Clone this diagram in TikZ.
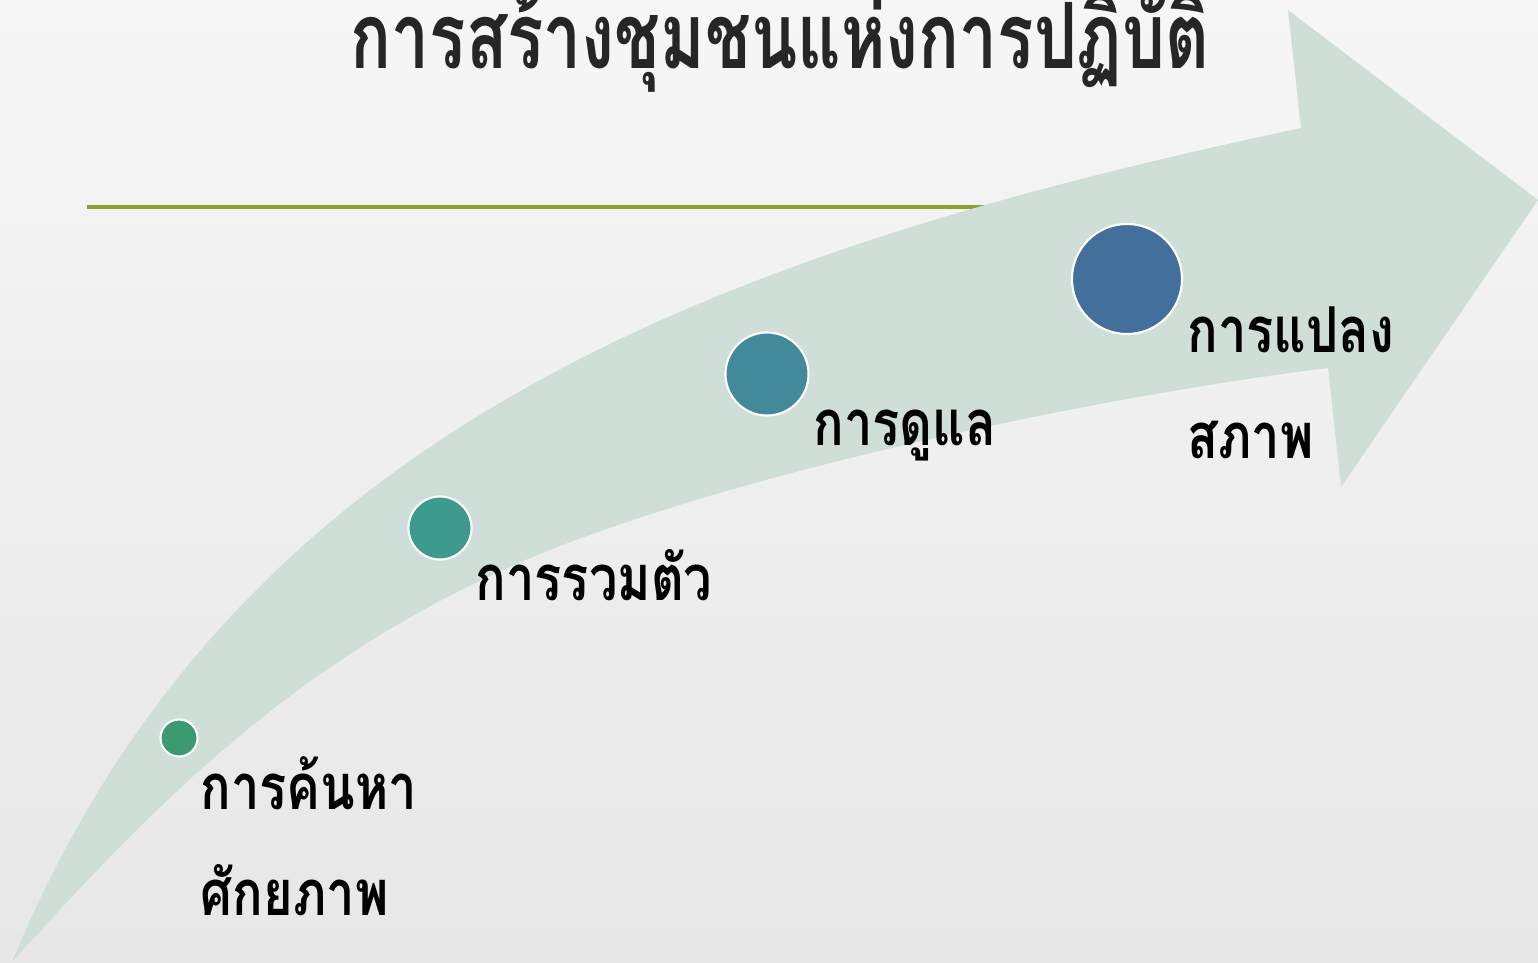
\documentclass[tikz,border=0pt]{standalone}
\usepackage{fontspec}
\newfontfamily\thaifont[Script=Thai,FakeStretch=0.8]{Loma}
\newfontfamily\thaititlefont[Script=Thai,FakeStretch=0.74]{Loma}
\usetikzlibrary{positioning}
\definecolor{bgtop}{RGB}{246,246,246}
\definecolor{bgbot}{RGB}{231,231,231}
\definecolor{bandgreen}{RGB}{207,223,216}
\definecolor{rulegreen}{RGB}{138,160,42}
\definecolor{dotA}{RGB}{60,154,112}
\definecolor{dotB}{RGB}{63,154,142}
\definecolor{dotC}{RGB}{66,137,154}
\definecolor{dotD}{RGB}{67,111,155}
\definecolor{titlegrey}{RGB}{38,38,38}
\begin{document}
\begin{tikzpicture}[x=0.01cm,y=-0.01cm,
  dot/.style={circle,draw=white,line width=0.6pt,inner sep=0pt},
  lbl/.style={anchor=base west,align=left,inner sep=0pt,
    font=\thaifont\bfseries\fontsize{18}{30}\selectfont}]
  % background
  \shade[top color=bgtop,bottom color=bgbot] (0,0) rectangle (1538,963);
  \useasboundingbox (0,0) rectangle (1538,963);
  % rule under the title
  \draw[rulegreen,line width=0.9pt] (87,207) -- (985,207);
  % curved arrow
  \fill[bandgreen] (12,962) .. controls (229,437) and (697,256) .. (1301,128)
    -- (1288,10) -- (1538,200) -- (1341,487) -- (1328,368)
    .. controls (1100,396) and (750,470) .. (550,550)
    .. controls (300,650) and (150,810) .. (12,962) -- cycle;
  % dots
  \node[dot,fill=dotA,minimum size=0.37cm] (dotfind) at (179,738) {};
  \node[dot,fill=dotB,minimum size=0.63cm] (dotjoin) at (440,528) {};
  \node[dot,fill=dotC,minimum size=0.83cm] (dotcare) at (767,374) {};
  \node[dot,fill=dotD,minimum size=1.10cm] (dotchange) at (1127,279) {};
  % labels (base = last line)
  \node[lbl] (lblfind) at (200,915) {การค้นหา\\ศักยภาพ};
  \node[lbl] (lbljoin) at (475,600) {การรวมตัว};
  \node[lbl] (lblcare) at (813,445) {การดูแล};
  \node[lbl] (lblchange) at (1187,458) {การแปลง\\สภาพ};
  % title
  \node[anchor=base,inner sep=0pt,text=titlegrey,
    font=\thaititlefont\bfseries\fontsize{26}{30}\selectfont] (title) at (780,68)
    {การสร้างชุมชนแห่งการปฏิบัติ};
\end{tikzpicture}
\end{document}
